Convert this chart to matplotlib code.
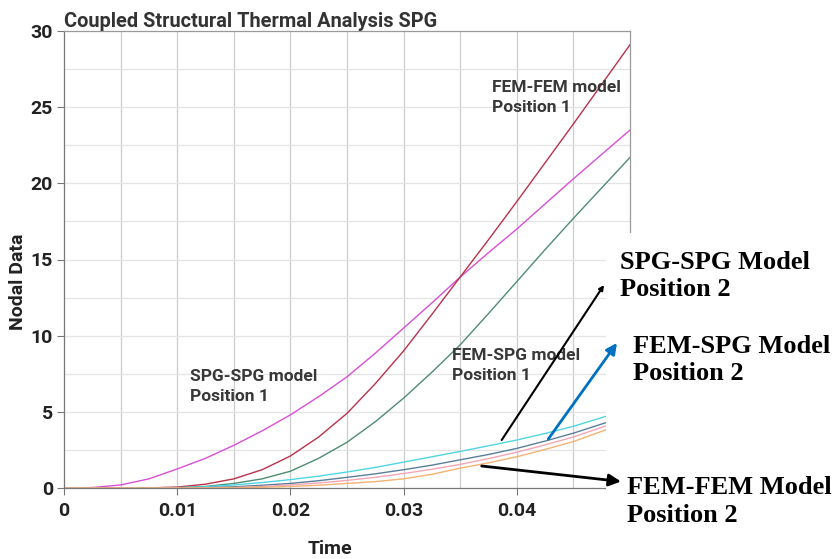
import matplotlib
matplotlib.use("Agg")
import matplotlib.pyplot as plt
from matplotlib.patches import Rectangle, FancyArrowPatch

# ---- data ----
t_pos1 = [0, 0.0025, 0.005, 0.0075, 0.01, 0.0125, 0.015, 0.0175, 0.02, 0.0225, 0.025,
          0.0275, 0.03, 0.0325, 0.035, 0.0375, 0.04, 0.0425, 0.045, 0.0475, 0.05]
spg_spg_pos1 = [0, 0.03, 0.2, 0.6, 1.25, 1.95, 2.8, 3.75, 4.8, 6.0, 7.3,
                8.85, 10.5, 12.15, 13.85, 15.45, 17.0, 18.65, 20.3, 21.9, 23.5]
fem_fem_pos1 = [0, 0, 0, 0.01, 0.06, 0.25, 0.6, 1.2, 2.1, 3.35, 4.9,
                6.85, 9.0, 11.4, 13.85, 16.3, 18.8, 21.35, 23.9, 26.5, 29.1]
fem_spg_pos1 = [0, 0, 0, 0, 0.02, 0.1, 0.3, 0.6, 1.1, 1.95, 3.0,
                4.35, 5.9, 7.6, 9.4, 11.45, 13.55, 15.65, 17.7, 19.7, 21.7]

t_pos2 = [0, 0.0025, 0.005, 0.0075, 0.01, 0.0125, 0.015, 0.0175, 0.02, 0.0225, 0.025,
          0.0275, 0.03, 0.0325, 0.035, 0.0375, 0.04, 0.0425, 0.045, 0.0475, 0.0485]
spg_spg_pos2 = [0, 0, 0, 0, 0.02, 0.08, 0.2, 0.36, 0.55, 0.78, 1.05,
                1.35, 1.7, 2.05, 2.4, 2.77, 3.15, 3.58, 4.05, 4.62, 4.85]
fem_spg_pos2 = [0, 0, 0, 0, 0, 0.02, 0.08, 0.18, 0.3, 0.48, 0.7,
                0.93, 1.2, 1.5, 1.85, 2.2, 2.6, 3.08, 3.6, 4.2, 4.45]
extra_pos2 = [0, 0, 0, 0, 0, 0.01, 0.03, 0.1, 0.2, 0.33, 0.5,
              0.7, 0.95, 1.23, 1.55, 1.93, 2.35, 2.83, 3.35, 3.98, 4.25]
fem_fem_pos2 = [0, 0, 0, 0, 0, 0, 0.02, 0.05, 0.1, 0.18, 0.3,
                0.42, 0.6, 0.9, 1.3, 1.65, 2.05, 2.53, 3.05, 3.72, 4.0]

xticks = [0, 0.01, 0.02, 0.03, 0.04]
xticklabels = ["0", "0.01", "0.02", "0.03", "0.04"]
yticks = [0, 5, 10, 15, 20, 25, 30]
yticklabels = ["0", "5", "10", "15", "20", "25", "30"]

W, H = 836, 559
fig = plt.figure(figsize=(W / 100, H / 100), dpi=100)
ax = fig.add_axes([64 / W, 1 - 488 / H, (630 - 64) / W, (488 - 31) / H])

sans = "Roboto"
ax.set_xlim(0, 0.05)
ax.set_ylim(0, 30)

# grid
for gx in [0.005 * i for i in range(1, 10)]:
    ax.axvline(gx, color="#cccccc", lw=0.9, zorder=0)
for gy in [2.5 * i for i in range(1, 12)]:
    ax.axhline(gy, color="#e4e4e4", lw=0.9, zorder=0)

lw = 1.0
ax.plot(t_pos1, spg_spg_pos1, color="#d94fd6", lw=lw)
ax.plot(t_pos1, fem_fem_pos1, color="#b8324a", lw=lw)
ax.plot(t_pos1, fem_spg_pos1, color="#4f8c72", lw=lw)
ax.plot(t_pos2, spg_spg_pos2, color="#4fd6e2", lw=lw)
ax.plot(t_pos2, fem_spg_pos2, color="#5a7f9a", lw=lw)
ax.plot(t_pos2, extra_pos2, color="#f2a6b6", lw=lw)
ax.plot(t_pos2, fem_fem_pos2, color="#f2b374", lw=lw)

ax.set_xticks(xticks)
ax.set_xticklabels(xticklabels)
ax.set_yticks(yticks)
ax.set_yticklabels(yticklabels)
ax.tick_params(direction="out", length=5, width=0.8, color="#777777",
               labelsize=14, labelcolor="#222222", pad=3)
for lab in ax.get_xticklabels() + ax.get_yticklabels():
    lab.set_fontfamily(sans)
    lab.set_fontweight("bold")
ax.tick_params(axis="x", pad=5)

for s in ["left", "bottom"]:
    ax.spines[s].set_color("#777777")
    ax.spines[s].set_linewidth(0.9)
for s in ["top", "right"]:
    ax.spines[s].set_color("#999999")
    ax.spines[s].set_linewidth(0.9)

ax.set_xlabel("Time", fontfamily=sans, fontweight="bold", fontsize=14, color="#222222",
              va="center")
ax.xaxis.set_label_coords((330 - 64) / (630 - 64), -(549 - 488) / (488 - 31))
ax.set_ylabel("Nodal Data", fontfamily=sans, fontweight="bold", fontsize=14, color="#222222",
              va="center")
ax.yaxis.set_label_coords(-(64 - 18) / (630 - 64), (488 - 282) / (488 - 31))

fig.text(64 / W, 1 - 27 / H, "Coupled Structural Thermal Analysis SPG", fontfamily=sans,
         fontweight="bold", fontsize=14.4, color="#333333", ha="left", va="baseline")

lab_kw = dict(fontfamily=sans, fontweight="bold", fontsize=12.5, color="#383838",
              ha="left", va="top", linespacing=1.4)
fig.text(492 / W, 1 - 80 / H, "FEM-FEM model\nPosition 1", **lab_kw)
fig.text(190 / W, 1 - 369 / H, "SPG-SPG model\nPosition 1", **lab_kw)
fig.text(452 / W, 1 - 348 / H, "FEM-SPG model\nPosition 1", **lab_kw)

# white overlay (pasted annotation area)
fig.add_artist(Rectangle((606 / W, 0), (W - 606) / W, 1 - 233 / H, transform=fig.transFigure,
                         facecolor="white", edgecolor="none", zorder=5))

serif_kw = dict(fontfamily="Liberation Serif", fontweight="bold", fontsize=19,
                color="black", ha="left", va="top", linespacing=1.25, zorder=7)
fig.text(620 / W, 1 - 251 / H, "SPG-SPG Model\nPosition 2", **serif_kw)
fig.text(633 / W, 1 - 335 / H, "FEM-SPG Model\nPosition 2", **serif_kw)
fig.text(627 / W, 1 - 476 / H, "FEM-FEM Model\nPosition 2", **serif_kw)


def arrow(p0, p1, color, lw, ms):
    a = FancyArrowPatch((p0[0] / W, 1 - p0[1] / H), (p1[0] / W, 1 - p1[1] / H),
                        transform=fig.transFigure, arrowstyle="-|>", mutation_scale=ms,
                        color=color, lw=lw, shrinkA=0, shrinkB=0, zorder=8)
    fig.add_artist(a)


arrow((501.7, 440), (604, 285), "black", 1.5, 7)
arrow((548.3, 439), (617, 343), "#0070c0", 2.0, 16)
arrow((481.7, 466), (621, 481.5), "black", 2.0, 18)

fig.savefig("out.png", dpi=100)
